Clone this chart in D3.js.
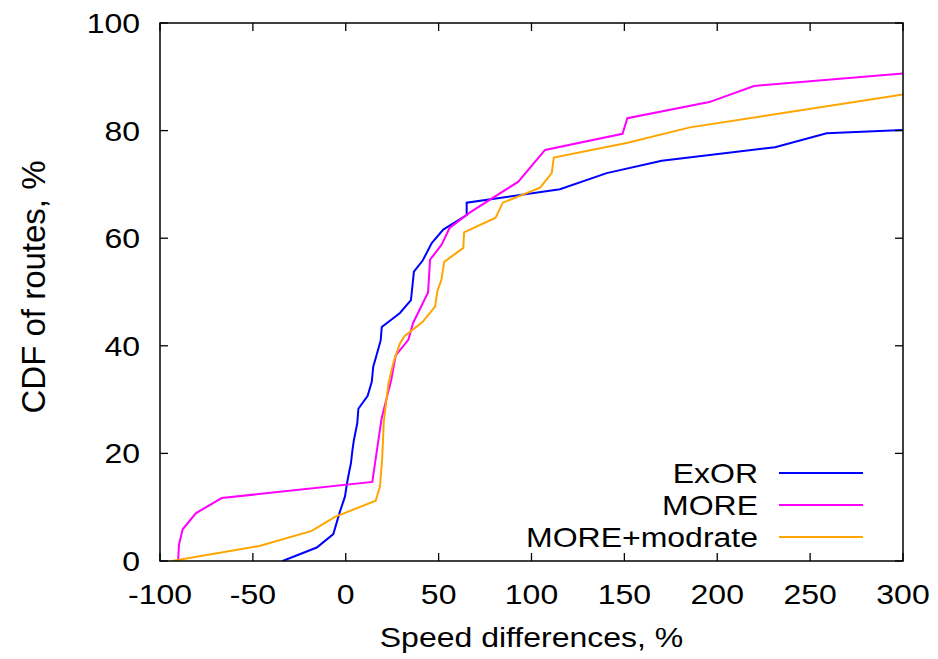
<!DOCTYPE html>
<html>
<head>
<meta charset="utf-8">
<script src="https://cdn.jsdelivr.net/npm/d3@7"></script>
<style>
  html, body { margin: 0; padding: 0; background: #fff; }
  svg text { font-family: "Liberation Sans", Arial, sans-serif; fill: #000; }
</style>
</head>
<body>
<svg id="chart" width="938" height="659"></svg>
<script>
// CDF curves: [speed difference %, cumulative % of routes]
const exor = [[-34,0],[-15.6,2.5],[-6.7,5.0],[-3.4,8.9],[-0.4,12],[0.5,14.1],[1.7,16.3],[2.8,18.2],[3.6,20.6],[4.4,22.5],[6.2,25.6],[6.8,28.3],[11.8,30.7],[14,33.3],[14.8,36.1],[16.6,38.3],[18.8,41],[19.4,43.5],[29.2,46.1],[35.1,48.5],[36.7,53.8],[41.5,55.9],[46.3,59.1],[52.5,61.6],[65.1,64.3],[65.1,66.6],[115.3,69.1],[140.5,72.1],[170.1,74.4],[231.1,76.9],[258.9,79.5],[300,80.1]];
const more = [[-90.2,0.3],[-89.8,3.0],[-87.8,5.9],[-80.6,8.9],[-66.8,11.7],[14.3,14.7],[19.3,26.5],[24.5,33.7],[26.9,38.2],[33.7,41.1],[36.2,44.2],[44.3,49.9],[45.4,56],[51.6,58.8],[55.9,61.9],[66.5,64.7],[92.9,70.5],[107.3,76.4],[149,79.4],[151.6,82.3],[195.7,85.3],[219.8,88.3],[300,90.6]];
const modrate = [[-93.5,0],[-46.5,2.8],[-18.3,5.6],[-5.8,8.2],[16.1,11.2],[18.4,13.8],[19.6,19],[20.5,26],[23,33],[25.6,36.8],[29,40.3],[31.6,41.8],[41.3,44.4],[48.1,47.3],[49.3,50.1],[51.5,52.3],[53,55.6],[63.3,58.2],[63.7,61.1],[80.7,63.8],[84.5,66.6],[104.6,69.4],[110.9,72.1],[112,75],[151.2,77.7],[185.3,80.6],[300,86.7]];

const seriesNames = ["ExOR", "MORE", "MORE+modrate"];
const seriesColors = ["#0000ff", "#ff00ff", "#ffa500"];
const xTicks = [-100, -50, 0, 50, 100, 150, 200, 250, 300];
const yTicks = [0, 20, 40, 60, 80, 100];

const svg = d3.select("#chart");
const plotL = 160, plotR = 903, plotT = 23, plotB = 561;
const fontSize = 32;
const squash = 0.88; // horizontal text: glyphs a little shorter than wide

const x = d3.scaleLinear().domain([-100, 300]).range([plotL, plotR]);
const y = d3.scaleLinear().domain([0, 100]).range([plotB, plotT]);

// clip curves to the plotting frame
svg.append("clipPath").attr("id", "plotclip")
  .append("rect").attr("x", plotL).attr("y", plotT)
  .attr("width", plotR - plotL).attr("height", plotB - plotT);

const line = d3.line().x(d => x(d[0])).y(d => y(d[1]));
const data = [exor, more, modrate];

const curves = svg.append("g").attr("clip-path", "url(#plotclip)");
data.forEach((s, i) => {
  curves.append("path").datum(s)
    .attr("d", line)
    .attr("fill", "none")
    .attr("stroke", seriesColors[i])
    .attr("stroke-width", 2)
    .attr("stroke-linejoin", "miter");
});

// inward ticks on all four sides
const tickLen = 8;
const axisG = svg.append("g").attr("stroke", "#000").attr("stroke-width", 1.3);
xTicks.forEach(t => {
  axisG.append("line").attr("x1", x(t)).attr("x2", x(t)).attr("y1", plotB).attr("y2", plotB - tickLen);
  axisG.append("line").attr("x1", x(t)).attr("x2", x(t)).attr("y1", plotT).attr("y2", plotT + tickLen);
});
yTicks.forEach(t => {
  axisG.append("line").attr("x1", plotL).attr("x2", plotL + tickLen).attr("y1", y(t)).attr("y2", y(t));
  axisG.append("line").attr("x1", plotR).attr("x2", plotR - tickLen).attr("y1", y(t)).attr("y2", y(t));
});

// frame
svg.append("rect")
  .attr("x", plotL).attr("y", plotT)
  .attr("width", plotR - plotL).attr("height", plotB - plotT)
  .attr("fill", "none").attr("stroke", "#000").attr("stroke-width", 1.5);

// helper: text placed at (px, py) baseline
function label(parent, px, py, anchor, str, size, sq, rotate) {
  const rot = rotate ? ` rotate(${rotate})` : "";
  return parent.append("text")
    .attr("transform", `translate(${px},${py})${rot} scale(1,${sq})`)
    .attr("text-anchor", anchor)
    .attr("font-size", size)
    .text(str);
}

// tick labels
const xLab = svg.append("g");
xTicks.forEach(t => label(xLab, x(t), 604, "middle", t, fontSize, squash));
const yLab = svg.append("g");
yTicks.forEach(t => label(yLab, 140, y(t) + 10, "end", t, fontSize, squash));

// axis titles
label(svg, (plotL + plotR) / 2, 647, "middle", "Speed differences, %", fontSize, squash);
label(svg, 45, 287, "middle", "CDF of routes, %", 33, 1, -90);

// legend
const legend = svg.append("g");
seriesNames.forEach((name, i) => {
  const ly = 473 + i * 32;
  label(legend, 758, ly + 10, "end", name, fontSize, squash);
  legend.append("line")
    .attr("x1", 779).attr("x2", 863)
    .attr("y1", ly).attr("y2", ly)
    .attr("stroke", seriesColors[i]).attr("stroke-width", 2);
});
</script>
</body>
</html>
